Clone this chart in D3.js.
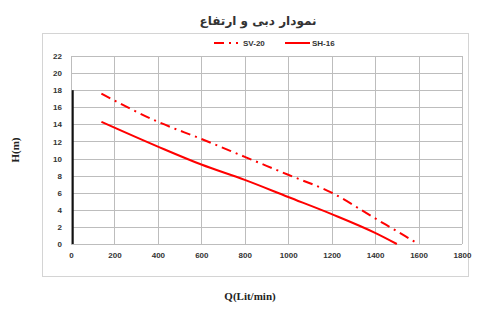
<!DOCTYPE html>
<html><head><meta charset="utf-8">
<script src="https://cdn.jsdelivr.net/npm/d3@7"></script>
<style>body{margin:0;background:#fff}</style>
</head><body>
<script>
const xTicks = [0,200,400,600,800,1000,1200,1400,1600,1800];
const yTicks = [0,2,4,6,8,10,12,14,16,18,20,22];
const sv20Q = [140,400,600,800,1000,1200,1400,1600];
const sv20H = [17.6,14.3,12.3,10.2,8.1,6.0,3.0,0];
const sh16Q = [140,400,600,800,1000,1200,1400,1500];
const sh16H = [14.3,11.4,9.3,7.5,5.5,3.5,1.3,0];
const blackQ = [8,8];
const blackH = [0,18];
const title = "نمودار دبی و ارتفاع";
const seriesNames = ["SV-20","SH-16"];

const W=500,H=310;
const svg=d3.select("body").append("svg").attr("width",W).attr("height",H);
const x=d3.scaleLinear().domain([0,1800]).range([71,462]);
const y=d3.scaleLinear().domain([0,22]).range([244,56]);

svg.append("rect").attr("x",42.5).attr("y",33.5).attr("width",426).attr("height",243)
  .attr("fill","none").attr("stroke","#d4d4d4");

// grid
svg.append("g").selectAll("line").data(yTicks).join("line")
  .attr("x1",x(0)).attr("x2",x(1800)).attr("y1",d=>Math.round(y(d))+0.5).attr("y2",d=>Math.round(y(d))+0.5)
  .attr("stroke","#bdbdbd").attr("stroke-width",1);
svg.append("g").selectAll("line").data(xTicks).join("line")
  .attr("y1",y(0)).attr("y2",y(22)).attr("x1",d=>Math.round(x(d))+0.5).attr("x2",d=>Math.round(x(d))+0.5)
  .attr("stroke","#bdbdbd").attr("stroke-width",1);

const xa=svg.append("g").attr("transform",`translate(0,${y(0)})`)
  .call(d3.axisBottom(x).tickValues(xTicks).tickFormat(d3.format("d")).tickSize(0).tickPadding(8));
xa.select(".domain").remove();
const ya=svg.append("g").attr("transform",`translate(${x(0)},0)`)
  .call(d3.axisLeft(y).tickValues(yTicks).tickFormat(d3.format("d")).tickSize(0).tickPadding(9));
ya.select(".domain").remove();
svg.selectAll(".tick text").attr("font-family","Liberation Sans, Arial, sans-serif")
  .attr("font-weight","bold").attr("font-size","8px").attr("fill","#333");

const line=d3.line().x(d=>x(d[0])).y(d=>y(d[1]));
svg.append("path").datum(blackQ.map((q,i)=>[q,blackH[i]])).attr("d",line)
  .attr("stroke","#111").attr("stroke-width",2).attr("fill","none");
svg.append("path").datum(sv20Q.map((q,i)=>[q,sv20H[i]])).attr("d",line.curve(d3.curveMonotoneX))
  .attr("stroke","#ff0000").attr("stroke-width",2).attr("fill","none").attr("stroke-dasharray","10,5,2,5");
svg.append("path").datum(sh16Q.map((q,i)=>[q,sh16H[i]])).attr("d",line.curve(d3.curveMonotoneX))
  .attr("stroke","#ff0000").attr("stroke-width",2).attr("fill","none");

// title
svg.append("text").attr("x",258).attr("y",25).attr("text-anchor","middle")
  .attr("font-family","DejaVu Sans, sans-serif").attr("font-weight","bold").attr("font-size","12px")
  .attr("fill","#333").text(title);

// legend
const lg=svg.append("g");
lg.append("line").attr("x1",214).attr("x2",238).attr("y1",43).attr("y2",43)
  .attr("stroke","#ff0000").attr("stroke-width",2).attr("stroke-dasharray","10,5,2,5");
lg.append("text").attr("x",243).attr("y",46).text(seriesNames[0]);
lg.append("line").attr("x1",285).attr("x2",310).attr("y1",43).attr("y2",43)
  .attr("stroke","#ff0000").attr("stroke-width",2);
lg.append("text").attr("x",312).attr("y",46).text(seriesNames[1]);
lg.selectAll("text").attr("font-family","Liberation Sans, Arial, sans-serif").attr("font-weight","bold")
  .attr("font-size","8px").attr("fill","#333");

// axis titles
svg.append("text").attr("transform","translate(19,150) rotate(-90)").attr("text-anchor","middle")
  .attr("font-family","Liberation Serif, Times New Roman, serif").attr("font-weight","bold").attr("font-size","11px")
  .attr("fill","#222").text("H(m)");
svg.append("text").attr("x",250).attr("y",300).attr("text-anchor","middle")
  .attr("font-family","Liberation Serif, Times New Roman, serif").attr("font-weight","bold").attr("font-size","11px")
  .attr("fill","#222").text("Q(Lit/min)");
</script>
</body></html>
